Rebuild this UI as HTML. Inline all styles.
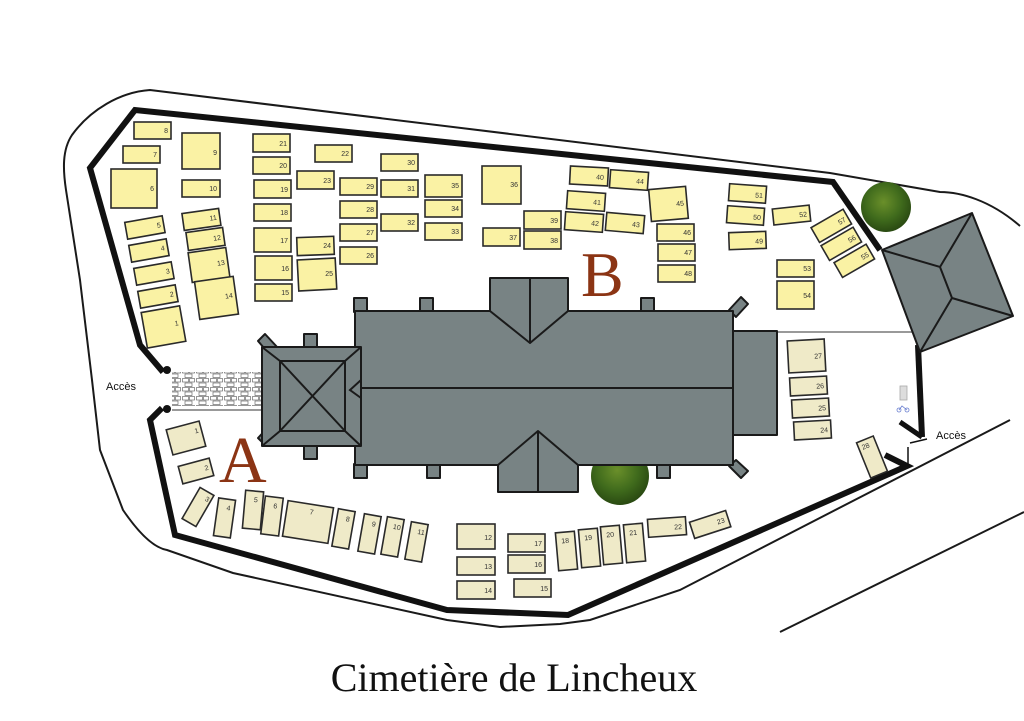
<!DOCTYPE html>
<html><head><meta charset="utf-8"><style>
html,body{margin:0;padding:0;background:#fff;}
svg{display:block;}
.y{fill:#faf2a4;stroke:#2a2a2a;stroke-width:1.6;}
.a{fill:#efeac8;stroke:#2a2a2a;stroke-width:1.6;}
.t{font-family:"Liberation Sans",sans-serif;font-size:7px;fill:#333;text-anchor:end;}
.g{fill:#788384;stroke:#1a1a1a;stroke-width:2;stroke-linejoin:round;}
.l{stroke:#1a1a1a;stroke-width:2;fill:none;}
</style></head><body>
<svg width="1024" height="721" viewBox="0 0 1024 721" xmlns="http://www.w3.org/2000/svg">
<defs>
<pattern id="pv" width="14" height="9" patternUnits="userSpaceOnUse">
<rect width="14" height="9" fill="#fff"/>
<rect x="0.5" y="0.5" width="6" height="3.5" fill="#fff" stroke="#555" stroke-width="0.6"/>
<rect x="7.5" y="0.5" width="5" height="3.5" fill="#fff" stroke="#555" stroke-width="0.6"/>
<rect x="3" y="5" width="7" height="3.5" fill="#fff" stroke="#555" stroke-width="0.6"/>
</pattern>
<radialGradient id="tr" cx="45%" cy="40%" r="60%"><stop offset="0" stop-color="#6a8f2a"/><stop offset="0.6" stop-color="#3f6a1c"/><stop offset="1" stop-color="#2a4a12"/></radialGradient>
</defs>
<path class="l" stroke-width="1.8" d="M1020,226 C990,200 960,192 940,192 L830,173 L150,90 C120,92 90,110 72,135 C62,150 63,170 66,190 L80,280 L92,380 L100,450 L123,510 C140,535 155,548 167,550 L233,573 L447,620 L500,627 L560,624 L590,620 L680,590 L1010,420"/>
<path class="l" stroke-width="1.8" d="M780,632 L1024,512"/>
<circle cx="886" cy="207" r="25" fill="url(#tr)"/>
<circle cx="620" cy="476" r="29" fill="url(#tr)"/>
<path fill="none" stroke="#111" stroke-width="6" stroke-linejoin="miter" d="M163,372 L140,345 L90,168 L135,110 L833,182 L880,250"/>
<path fill="none" stroke="#111" stroke-width="6" d="M918,345 L922,437"/>
<path fill="none" stroke="#111" stroke-width="6" d="M162,408 L150,420 L175,535 L447,610 L568,615 L907,466 L885,455"/>
<path fill="none" stroke="#111" stroke-width="5" d="M900,422 L922,437"/>
<path fill="none" stroke="#111" stroke-width="1.5" d="M910,443 L927,439 M908,447 L908,466"/>
<circle cx="167" cy="370" r="4" fill="#111"/><circle cx="167" cy="409" r="4" fill="#111"/>
<rect x="172" y="372" width="93" height="34" fill="url(#pv)"/>
<line x1="172" y1="410" x2="265" y2="410" stroke="#999" stroke-width="2"/>
<line x1="777" y1="332" x2="912" y2="332" stroke="#999" stroke-width="2"/>
<polygon class="g" points="882,250 972,213 1013,316 920,352"/>
<path class="l" d="M882,250 L940,267 L972,213 M940,267 L952,298 L1013,316 M952,298 L920,352"/>
<rect class="g" x="354" y="298" width="13" height="14"/><rect class="g" x="420" y="298" width="13" height="14"/><rect class="g" x="641" y="298" width="13" height="14"/>
<rect class="g" x="354" y="464" width="13" height="14"/><rect class="g" x="427" y="464" width="13" height="14"/><rect class="g" x="657" y="464" width="13" height="14"/>
<rect class="g" x="304" y="334" width="13" height="14"/><rect class="g" x="304" y="445" width="13" height="14"/>
<polygon class="g" points="729,310 741,297 748,304 736,317"/>
<polygon class="g" points="729,466 741,478 748,471 736,460"/>
<polygon class="g" points="258,341 265,334 278,348 270,355"/>
<polygon class="g" points="258,438 265,445 278,432 270,425"/>
<rect class="g" x="733" y="331" width="44" height="104"/>
<rect class="g" x="355" y="311" width="378" height="154"/>
<polygon class="g" points="490,311 490,278 568,278 568,311 530,343"/>
<line class="l" x1="530" y1="278" x2="530" y2="343"/>
<polygon class="g" points="498,465 538,431 578,465 578,492 498,492"/>
<line class="l" x1="538" y1="431" x2="538" y2="492"/>
<line class="l" x1="355" y1="388" x2="733" y2="388"/>
<rect class="g" x="262" y="347" width="99" height="99"/>
<rect class="l" x="280" y="361" width="65" height="70"/>
<path class="l" d="M262,347 L280,361 M361,347 L345,361 M262,446 L280,431 M361,446 L345,431 M280,361 L345,431 M345,361 L280,431 M361,380 L350,390 L361,398"/>
<g>
<rect class="y" x="134" y="122" width="37" height="17"/><text class="t" x="168" y="133">8</text>
<rect class="y" x="123" y="146" width="37" height="17"/><text class="t" x="157" y="157">7</text>
<rect class="y" x="182" y="133" width="38" height="36"/><text class="t" x="217" y="155">9</text>
<rect class="y" x="111" y="169" width="46" height="39"/><text class="t" x="154" y="191">6</text>
<rect class="y" x="182" y="180" width="38" height="17"/><text class="t" x="217" y="191">10</text>
<rect class="y" x="253" y="134" width="37" height="18"/><text class="t" x="287" y="146">21</text>
<rect class="y" x="253" y="157" width="37" height="17"/><text class="t" x="287" y="168">20</text>
<rect class="y" x="254" y="180" width="37" height="18"/><text class="t" x="288" y="192">19</text>
<rect class="y" x="254" y="204" width="37" height="17"/><text class="t" x="288" y="215">18</text>
<rect class="y" x="254" y="228" width="37" height="24"/><text class="t" x="288" y="243">17</text>
<rect class="y" x="255" y="256" width="37" height="24"/><text class="t" x="289" y="271">16</text>
<rect class="y" x="255" y="284" width="37" height="17"/><text class="t" x="289" y="295">15</text>
<rect class="y" x="315" y="145" width="37" height="17"/><text class="t" x="349" y="156">22</text>
<rect class="y" x="297" y="171" width="37" height="18"/><text class="t" x="331" y="183">23</text>
<rect class="y" x="297" y="237" width="37" height="18" transform="rotate(-2 315 246)"/><text class="t" x="331" y="248">24</text>
<rect class="y" x="298" y="259" width="38" height="31" transform="rotate(-3 317 275)"/><text class="t" x="333" y="276">25</text>
<rect class="y" x="340" y="178" width="37" height="17"/><text class="t" x="374" y="189">29</text>
<rect class="y" x="340" y="201" width="37" height="17"/><text class="t" x="374" y="212">28</text>
<rect class="y" x="340" y="224" width="37" height="17"/><text class="t" x="374" y="235">27</text>
<rect class="y" x="340" y="247" width="37" height="17"/><text class="t" x="374" y="258">26</text>
<rect class="y" x="381" y="154" width="37" height="17"/><text class="t" x="415" y="165">30</text>
<rect class="y" x="381" y="180" width="37" height="17"/><text class="t" x="415" y="191">31</text>
<rect class="y" x="381" y="214" width="37" height="17"/><text class="t" x="415" y="225">32</text>
<rect class="y" x="425" y="175" width="37" height="22"/><text class="t" x="459" y="188">35</text>
<rect class="y" x="425" y="200" width="37" height="17"/><text class="t" x="459" y="211">34</text>
<rect class="y" x="425" y="223" width="37" height="17"/><text class="t" x="459" y="234">33</text>
<g transform="rotate(-10 145 228)"><rect class="y" x="126" y="219" width="38" height="17"/><text class="t" x="161" y="230">5</text></g>
<g transform="rotate(-10 149 251)"><rect class="y" x="130" y="242" width="38" height="17"/><text class="t" x="165" y="253">4</text></g>
<g transform="rotate(-10 154 274)"><rect class="y" x="135" y="265" width="38" height="17"/><text class="t" x="170" y="276">3</text></g>
<g transform="rotate(-10 158 297)"><rect class="y" x="139" y="288" width="38" height="17"/><text class="t" x="174" y="299">2</text></g>
<g transform="rotate(-10 163 327)"><rect class="y" x="144" y="309" width="39" height="36"/><text class="t" x="179" y="328">1</text></g>
<g transform="rotate(-8 201 220)"><rect class="y" x="183" y="211" width="37" height="17"/><text class="t" x="217" y="222">11</text></g>
<g transform="rotate(-8 205 239)"><rect class="y" x="187" y="230" width="37" height="18"/><text class="t" x="221" y="242">12</text></g>
<g transform="rotate(-8 209 265)"><rect class="y" x="190" y="250" width="38" height="30"/><text class="t" x="225" y="267">13</text></g>
<g transform="rotate(-8 216 298)"><rect class="y" x="197" y="279" width="39" height="38"/><text class="t" x="233" y="300">14</text></g>
<rect class="y" x="482" y="166" width="39" height="38"/><text class="t" x="518" y="187">36</text>
<g transform="rotate(3 589 176)"><rect class="y" x="570" y="167" width="38" height="18"/><text class="t" x="604" y="179">40</text></g>
<g transform="rotate(4 629 180)"><rect class="y" x="610" y="171" width="38" height="18"/><text class="t" x="644" y="183">44</text></g>
<g transform="rotate(4 586 201)"><rect class="y" x="567" y="192" width="38" height="18"/><text class="t" x="601" y="204">41</text></g>
<g transform="rotate(4 584 222)"><rect class="y" x="565" y="213" width="38" height="18"/><text class="t" x="599" y="225">42</text></g>
<g transform="rotate(5 625 223)"><rect class="y" x="606" y="214" width="38" height="18"/><text class="t" x="640" y="226">43</text></g>
<rect class="y" x="524" y="211" width="37" height="18"/><text class="t" x="558" y="223">39</text>
<rect class="y" x="524" y="231" width="37" height="18"/><text class="t" x="558" y="243">38</text>
<rect class="y" x="483" y="228" width="37" height="18"/><text class="t" x="517" y="240">37</text>
<g transform="rotate(-5 668 204)"><rect class="y" x="650" y="188" width="37" height="32"/><text class="t" x="684" y="207">45</text></g>
<rect class="y" x="657" y="224" width="37" height="17"/><text class="t" x="691" y="235">46</text>
<rect class="y" x="658" y="244" width="37" height="17"/><text class="t" x="692" y="255">47</text>
<rect class="y" x="658" y="265" width="37" height="17"/><text class="t" x="692" y="276">48</text>
<g transform="rotate(4 748 194)"><rect class="y" x="729" y="185" width="37" height="17"/><text class="t" x="763" y="197">51</text></g>
<g transform="rotate(4 746 216)"><rect class="y" x="727" y="207" width="37" height="17"/><text class="t" x="761" y="219">50</text></g>
<g transform="rotate(-2 748 241)"><rect class="y" x="729" y="232" width="37" height="17"/><text class="t" x="763" y="244">49</text></g>
<g transform="rotate(-6 792 215)"><rect class="y" x="773" y="207" width="37" height="16"/><text class="t" x="807" y="218">52</text></g>
<rect class="y" x="777" y="260" width="37" height="17"/><text class="t" x="811" y="271">53</text>
<rect class="y" x="777" y="281" width="37" height="28"/><text class="t" x="811" y="298">54</text>
<g transform="rotate(-30 832 226)"><rect class="y" x="813" y="217" width="37" height="17"/><text class="t" x="847" y="229">57</text></g>
<g transform="rotate(-30 842 244)"><rect class="y" x="823" y="235" width="37" height="17"/><text class="t" x="857" y="247">56</text></g>
<g transform="rotate(-30 855 261)"><rect class="y" x="836" y="252" width="37" height="17"/><text class="t" x="870" y="264">55</text></g>
</g>
<g>
<g transform="rotate(-15 186 438)"><rect class="a" x="169" y="425" width="34" height="26"/><text class="t" x="200" y="436">1</text></g>
<g transform="rotate(-15 196 471)"><rect class="a" x="180" y="462" width="32" height="18"/><text class="t" x="209" y="473">2</text></g>
<g transform="rotate(30 198 507)"><rect class="a" x="190" y="489" width="16" height="36"/><text class="t" x="204" y="498">3</text></g>
<g transform="rotate(8 225 518)"><rect class="a" x="216" y="499" width="17" height="38"/><text class="t" x="229" y="510">4</text></g>
<g transform="rotate(5 253 510)"><rect class="a" x="244" y="491" width="18" height="38"/><text class="t" x="257" y="502">5</text></g>
<g transform="rotate(7 272 516)"><rect class="a" x="263" y="497" width="18" height="38"/><text class="t" x="276" y="508">6</text></g>
<g transform="rotate(9 308 522)"><rect class="a" x="285" y="504" width="46" height="36"/><text class="t" x="312" y="514">7</text></g>
<g transform="rotate(10 344 529)"><rect class="a" x="335" y="510" width="17" height="38"/><text class="t" x="348" y="521">8</text></g>
<g transform="rotate(10 370 534)"><rect class="a" x="361" y="515" width="17" height="38"/><text class="t" x="374" y="526">9</text></g>
<g transform="rotate(10 393 537)"><rect class="a" x="384" y="518" width="17" height="38"/><text class="t" x="399" y="529">10</text></g>
<g transform="rotate(10 417 542)"><rect class="a" x="408" y="523" width="17" height="38"/><text class="t" x="423" y="534">11</text></g>
<rect class="a" x="457" y="524" width="38" height="25"/><text class="t" x="492" y="540">12</text>
<rect class="a" x="457" y="557" width="38" height="18"/><text class="t" x="492" y="569">13</text>
<rect class="a" x="457" y="581" width="38" height="18"/><text class="t" x="492" y="593">14</text>
<rect class="a" x="508" y="534" width="37" height="18"/><text class="t" x="542" y="546">17</text>
<rect class="a" x="508" y="555" width="37" height="18"/><text class="t" x="542" y="567">16</text>
<rect class="a" x="514" y="579" width="37" height="18"/><text class="t" x="548" y="591">15</text>
<g transform="rotate(-5 566 551)"><rect class="a" x="557" y="532" width="19" height="38"/><text class="t" x="570" y="543">18</text></g>
<g transform="rotate(-5 589 548)"><rect class="a" x="580" y="529" width="19" height="38"/><text class="t" x="593" y="540">19</text></g>
<g transform="rotate(-5 611 545)"><rect class="a" x="602" y="526" width="19" height="38"/><text class="t" x="615" y="537">20</text></g>
<g transform="rotate(-5 634 543)"><rect class="a" x="625" y="524" width="19" height="38"/><text class="t" x="638" y="535">21</text></g>
<g transform="rotate(-4 667 527)"><rect class="a" x="648" y="518" width="38" height="18"/><text class="t" x="682" y="530">22</text></g>
<g transform="rotate(-18 710 524)"><rect class="a" x="691" y="516" width="38" height="17"/><text class="t" x="725" y="527">23</text></g>
<g transform="rotate(-3 806 356)"><rect class="a" x="788" y="340" width="37" height="32"/><text class="t" x="822" y="359">27</text></g>
<g transform="rotate(-3 809 386)"><rect class="a" x="790" y="377" width="37" height="18"/><text class="t" x="824" y="389">26</text></g>
<g transform="rotate(-3 811 408)"><rect class="a" x="792" y="399" width="37" height="18"/><text class="t" x="826" y="411">25</text></g>
<g transform="rotate(-3 813 430)"><rect class="a" x="794" y="421" width="37" height="18"/><text class="t" x="828" y="433">24</text></g>
<g transform="rotate(-22 872 457)"><rect class="a" x="863" y="438" width="18" height="38"/><text class="t" x="874" y="447">28</text></g>
</g>
<rect x="900" y="386" width="7" height="14" fill="#ddd" stroke="#aaa" stroke-width="0.8"/>
<g stroke="#6a7fd0" stroke-width="0.8" fill="none"><circle cx="899" cy="410" r="2"/><circle cx="907" cy="410" r="2"/><path d="M899,410 L902,406 L907,410"/></g>
<text x="106" y="390" font-family="Liberation Sans,sans-serif" font-size="11" fill="#111">Accès</text>
<text x="936" y="439" font-family="Liberation Sans,sans-serif" font-size="11" fill="#111">Accès</text>
<text x="219" y="482" font-family="Liberation Serif,serif" font-size="66" fill="#8b3414">A</text>
<text x="581" y="296" font-family="Liberation Serif,serif" font-size="64" fill="#8b3414">B</text>
<text x="514" y="691" font-family="Liberation Serif,serif" font-size="40" fill="#111" text-anchor="middle">Cimetière de Lincheux</text>
</svg>
</body></html>
